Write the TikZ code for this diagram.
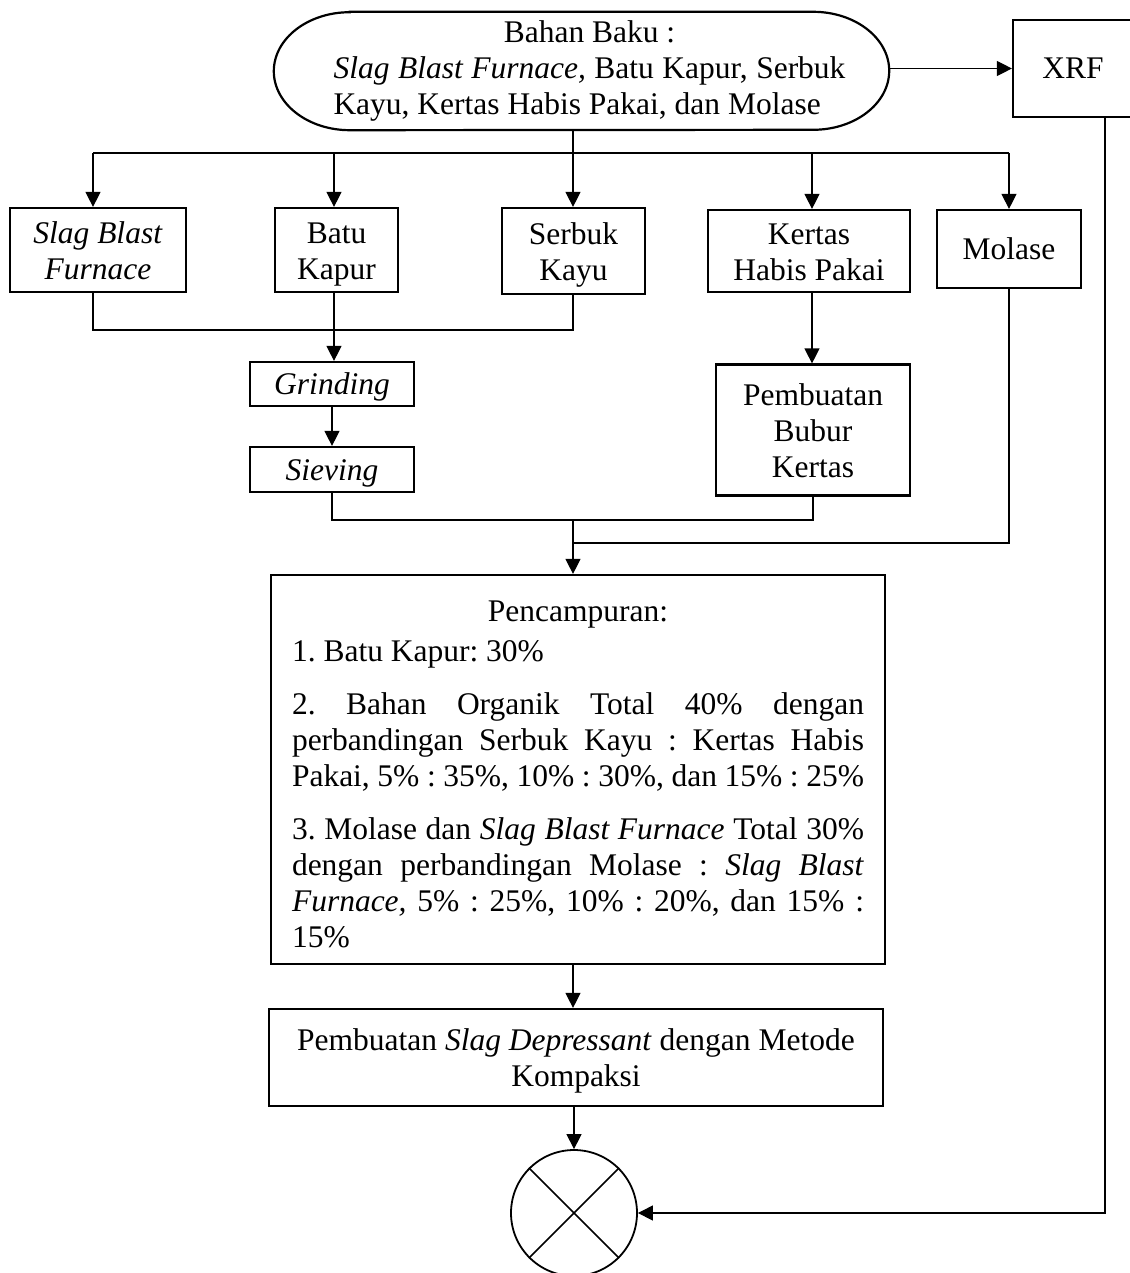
\documentclass[tikz,border=0pt]{standalone}
\usepackage{fontspec}
\setmainfont{Liberation Serif}
\usetikzlibrary{arrows.meta}
\newcommand\boxstrut{\rule[-7.5pt]{0pt}{36pt}}
\newcommand\lineup{\rule{0pt}{30pt}}
\begin{document}
\frenchspacing
\begin{tikzpicture}[x=1pt,y=-1pt,
  font=\fontsize{31.5}{36}\selectfont,
  procbox/.style={draw,line width=2.2pt,align=center,inner sep=0pt,
    execute at end node=\boxstrut},
  conn/.style={line width=1.2pt},
  arr/.style={conn,-{Triangle[length=15pt,width=15pt]}}]
\useasboundingbox (0,0) rectangle (1129,1273);

% raw material terminal (stadium with elliptic ends)
\node[minimum width=615pt, minimum height=118pt, inner sep=0pt] (top) at (581.5,71) {};
\draw[line width=2.2pt] ([xshift=76pt]top.north west) -- ([xshift=-76pt]top.north east)
  arc[start angle=90, end angle=-90, x radius=76pt, y radius=59pt]
  -- ([xshift=76pt]top.south west)
  arc[start angle=270, end angle=90, x radius=76pt, y radius=59pt] -- cycle;
\node[text width=512pt, align=justify, inner sep=0pt] (toptext) at (589.5,71)
  {{\centering Bahan Baku :\par}\textit{Slag Blast Furnace,} Batu Kapur, Serbuk\linebreak Kayu, Kertas Habis Pakai, dan Molase};

% nodes
\node[procbox, minimum width=120pt, minimum height=97pt] (xrf) at (1073,68.5) {XRF};
\node[procbox, minimum width=176pt, minimum height=84pt] (sbf) at (98,250) {\lineup\textit{Slag Blast}\\\textit{Furnace}};
\node[procbox, minimum width=123pt, minimum height=84pt] (batu) at (336.5,250) {\lineup Batu\\Kapur};
\node[procbox, minimum width=143pt, minimum height=86pt] (serbuk) at (573.5,251) {\lineup Serbuk\\Kayu};
\node[procbox, minimum width=202pt, minimum height=82pt] (kertas) at (809,251) {\lineup Kertas\\Habis Pakai};
\node[procbox, minimum width=144pt, minimum height=78pt] (molase) at (1009,249) {Molase};
\node[procbox, minimum width=164pt, minimum height=44pt] (grind) at (332,384) {\textit{Grinding}};
\node[procbox, minimum width=164pt, minimum height=45pt] (sieve) at (332,469.5) {\textit{Sieving}};
\node[procbox, minimum width=194pt, minimum height=131pt] (bubur) at (813,430) {\lineup Pembuatan\\Bubur\\Kertas};
\node[draw, line width=2.2pt, inner sep=0pt, minimum width=614pt, minimum height=389pt, text width=572pt, align=justify] (mix) at (578,769.5)
  {{\centering\lineup Pencampuran:\par}\vspace{4pt}%
   1. Batu Kapur: 30\%\par\vspace{17pt}%
   2. Bahan Organik Total 40\% dengan\linebreak perbandingan Serbuk Kayu : Kertas Habis\linebreak Pakai, 5\% : 35\%, 10\% : 30\%, dan 15\% : 25\%\par\vspace{17pt}%
   3. Molase dan \textit{Slag Blast Furnace} Total 30\%\linebreak dengan perbandingan Molase : \textit{Slag Blast}\linebreak \textit{Furnace,} 5\% : 25\%, 10\% : 20\%, dan 15\% :\linebreak 15\%};
\node[procbox, minimum width=614pt, minimum height=97pt] (dep) at (576,1057.5)
  {\lineup Pembuatan \textit{Slag Depressant} dengan Metode\\Kompaksi};
\node[draw, circle, line width=1.8pt, minimum size=126pt, inner sep=0pt] (circ) at (574,1213) {};
\draw[line width=1.5pt] (circ.north west) -- (circ.south east);
\draw[line width=1.5pt] (circ.north east) -- (circ.south west);

% coordinates
\coordinate (ba) at (93,153);
\coordinate (bb) at (334,153);
\coordinate (bc) at (573,153);
\coordinate (bd) at (812,153);
\coordinate (be) at (1009,153);
\coordinate (m1) at (93,330);
\coordinate (m2) at (573,330);
\coordinate (s1) at (332,520);
\coordinate (s2) at (813,520);
\coordinate (mo) at (1009,543);
\coordinate (mc) at (573,543);
\coordinate (j) at (573,520);
\coordinate (xr) at (1105,1213);

% connectors
\draw[conn] (top.south -| bc) -- (bc);
\draw[conn] (ba) -- (be);
\draw[arr] (ba) -- (ba |- sbf.north);
\draw[arr] (bb) -- (bb |- batu.north);
\draw[arr] (bc) -- (bc |- serbuk.north);
\draw[arr] (bd) -- (bd |- kertas.north);
\draw[arr] (be) -- (be |- molase.north);
\draw[arr] (xrf.west -| top.east) -- (xrf.west);
\draw[conn] (sbf.south -| m1) -- (m1) -- (m2) -- (serbuk.south -| m2);
\draw[arr] (batu.south -| bb) -- (grind.north -| bb);
\draw[arr] (grind.south) -- (sieve.north);
\draw[arr] (kertas.south -| bd) -- (bubur.north -| bd);
\draw[conn] (sieve.south) -- (s1) -- (s2) -- (bubur.south);
\draw[conn] (molase.south) -- (mo) -- (mc);
\draw[arr] (j) -- (j |- mix.north);
\draw[arr] (mix.south -| j) -- (dep.north -| j);
\draw[arr] (dep.south -| circ) -- (circ.north);
\draw[arr] (xrf.south -| xr) -- (xr) -- (circ.east);
\end{tikzpicture}
\end{document}
